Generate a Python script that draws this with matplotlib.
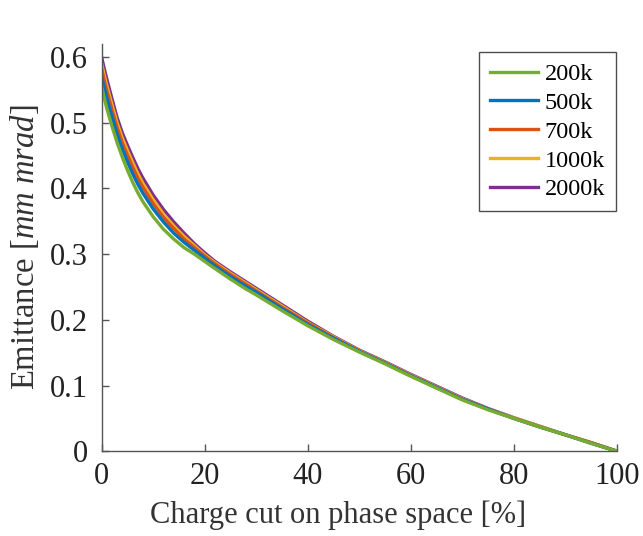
import matplotlib
matplotlib.use("Agg")
import matplotlib.pyplot as plt

plt.rcParams['font.family'] = ['Liberation Serif', 'DejaVu Serif']
plt.rcParams['mathtext.fontset'] = 'custom'
plt.rcParams['mathtext.rm'] = 'Liberation Serif'
plt.rcParams['mathtext.it'] = 'Liberation Serif:italic'

# charge cut [%]
cut = [0, 0.5, 1, 2, 3, 4, 5, 6, 7, 8, 10, 12, 14, 16, 18, 20, 22, 25, 28, 30,
       35, 40, 45, 50, 55, 60, 65, 70, 75, 80, 85, 90, 95, 100]

# emittance [mm mrad] per number of particles
emit_200k = [0.556, 0.538, 0.522, 0.495, 0.470, 0.448, 0.428, 0.410, 0.394, 0.380, 0.357,
             0.338, 0.323, 0.310, 0.300, 0.289, 0.278, 0.262, 0.247, 0.238, 0.214, 0.191,
             0.170, 0.151, 0.133, 0.114, 0.096, 0.078, 0.063, 0.050, 0.037, 0.025, 0.012, 0.0]
emit_500k = [0.571, 0.554, 0.538, 0.510, 0.483, 0.461, 0.441, 0.423, 0.407, 0.393, 0.369,
             0.349, 0.332, 0.318, 0.306, 0.294, 0.282, 0.266, 0.251, 0.242, 0.217, 0.193,
             0.172, 0.152, 0.134, 0.115, 0.097, 0.079, 0.064, 0.050, 0.037, 0.025, 0.012, 0.0]
emit_700k = [0.582, 0.565, 0.549, 0.520, 0.493, 0.470, 0.451, 0.433, 0.416, 0.402, 0.377,
             0.356, 0.339, 0.323, 0.310, 0.297, 0.285, 0.269, 0.254, 0.244, 0.219, 0.195,
             0.173, 0.152, 0.134, 0.115, 0.097, 0.079, 0.064, 0.050, 0.037, 0.025, 0.013, 0.0]
emit_1000k = [0.590, 0.573, 0.557, 0.528, 0.500, 0.477, 0.458, 0.440, 0.423, 0.408, 0.383,
              0.361, 0.343, 0.327, 0.313, 0.299, 0.287, 0.271, 0.256, 0.246, 0.221, 0.196,
              0.174, 0.153, 0.135, 0.116, 0.098, 0.080, 0.064, 0.051, 0.038, 0.025, 0.013, 0.0]
emit_2000k = [0.600, 0.583, 0.567, 0.537, 0.508, 0.485, 0.466, 0.448, 0.431, 0.416, 0.390,
              0.368, 0.349, 0.332, 0.316, 0.302, 0.289, 0.273, 0.258, 0.248, 0.223, 0.198,
              0.175, 0.154, 0.136, 0.117, 0.099, 0.081, 0.065, 0.051, 0.038, 0.025, 0.013, 0.0]

labels = ["200k", "500k", "700k", "1000k", "2000k"]
series = [emit_200k, emit_500k, emit_700k, emit_1000k, emit_2000k]
colors = ["#77AC30", "#0072BD", "#D95319", "#EDB120", "#7E2F8E"]

fig = plt.figure(figsize=(6.43, 5.36), dpi=100)
ax = fig.add_axes([0.158, 0.158, 0.802, 0.760])

handles = []
# draw the biggest run first so 200k ends up on top
for i in reversed(range(len(series))):
    line, = ax.plot(cut, series[i], color=colors[i], linewidth=2.4, label=labels[i])
    handles.insert(0, line)

ax.set_xlim(0, 100)
ax.set_ylim(0, 0.62)
ax.set_xticks([0, 20, 40, 60, 80, 100])
ax.set_yticks([0, 0.1, 0.2, 0.3, 0.4, 0.5, 0.6])
ax.set_yticklabels(["0", "0.1", "0.2", "0.3", "0.4", "0.5", "0.6"])

for side in ["top", "right"]:
    ax.spines[side].set_visible(False)
for side in ["left", "bottom"]:
    ax.spines[side].set_color("#555555")
    ax.spines[side].set_linewidth(1.0)
ax.tick_params(direction="in", length=5, width=1.0, colors="#555555",
               labelcolor="#222222", labelsize=22)
ax.tick_params(axis="x", pad=8)
ax.tick_params(axis="y", pad=10)

ax.set_xlabel("Charge cut on phase space [%]", fontsize=22, color="#333333")
ax.xaxis.set_label_coords(0.459, -0.12)
ax.set_ylabel(r"Emittance [$\mathit{mm\ mrad}$]", fontsize=23.5, color="#333333", labelpad=6)

leg = ax.legend(handles=handles, loc="upper right", bbox_to_anchor=(0.997, 0.98),
                borderaxespad=0, fontsize=17.5, frameon=True, fancybox=False,
                handlelength=2.0, handletextpad=0.25, labelspacing=0.28, borderpad=0.45)
leg.get_frame().set_edgecolor("#222222")
leg.get_frame().set_linewidth(1.0)

fig.savefig("out.png", dpi=100)
